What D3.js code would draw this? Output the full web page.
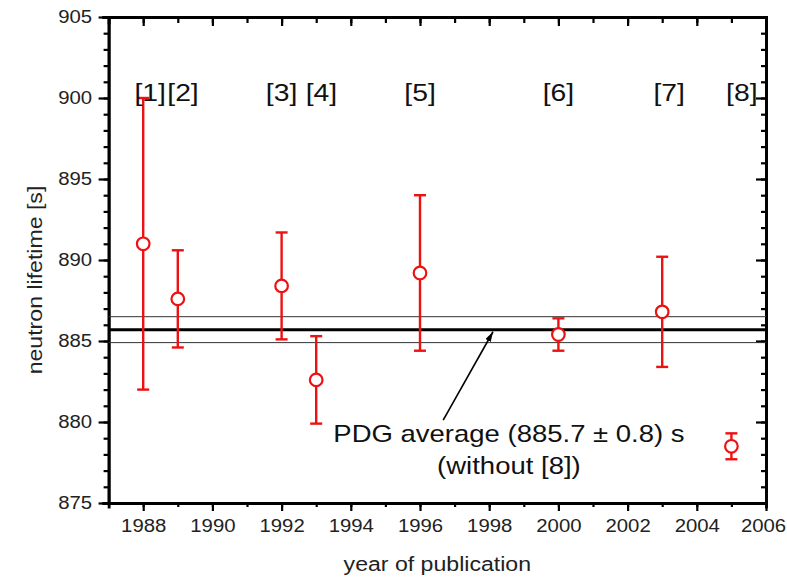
<!DOCTYPE html>
<html>
<head>
<meta charset="utf-8">
<script src="https://cdn.jsdelivr.net/npm/d3@7"></script>
<style>
  body { margin: 0; background: #fff; }
  svg { display: block; font-family: "Liberation Sans", Arial, sans-serif; }
</style>
</head>
<body>
<div id="chart"></div>
<script>
// measurements of the neutron lifetime
var years     = [1988, 1989, 1992, 1993, 1996, 2000, 2003, 2005];
var lifetimes = [891.0, 887.6, 888.4, 882.6, 889.2, 885.4, 886.8, 878.5];
var errors    = [9.0, 3.0, 3.3, 2.7, 4.8, 1.0, 3.4, 0.8];
var refLabels = ["[1]", "[2]", "[3]", "[4]", "[5]", "[6]", "[7]", "[8]"];
var refLabelYears = [1988.2, 1989.15, 1992.0, 1993.15, 1996.0, 2000.0, 2003.2, 2005.3];

// PDG average
var pdgMean = 885.7, pdgErr = 0.8;
var pdgText = ["PDG average (885.7 \u00b1 0.8) s", "(without [8])"];

var xTicks = [1988, 1990, 1992, 1994, 1996, 1998, 2000, 2002, 2004, 2006];
var yTicks = [875, 880, 885, 890, 895, 900, 905];

var width = 787, height = 579;
var margin = { top: 17, right: 21, bottom: 76, left: 108.6 };
var fontFamily = "'Liberation Sans', Arial, sans-serif";
var stretch = 1.13; // the original text is a bit wider than Arial

var svg = d3.select("#chart").append("svg")
    .attr("width", width)
    .attr("height", height);

var x = d3.scaleLinear().domain([1987, 2006]).range([margin.left, width - margin.right]);
var y = d3.scaleLinear().domain([875, 905]).range([height - margin.bottom, margin.top]);

var xMinor = d3.range(1987, 2007, 1);
var yMinor = d3.range(875, 906, 1);

function styleAxis(g) {
    g.attr("font-family", fontFamily).attr("font-size", 18);
    g.select(".domain").attr("stroke", "#000").attr("stroke-width", 2.8)
        .attr("stroke-linecap", "square");
    g.selectAll(".tick line").attr("stroke", "#000").attr("stroke-width", 2.2);
    g.selectAll(".tick text").attr("fill", "#222");
}

// minor ticks
svg.append("g").attr("transform", "translate(0," + y.range()[0] + ")")
    .call(d3.axisBottom(x).tickValues(xMinor).tickSize(4).tickFormat(""))
    .call(styleAxis);
svg.append("g").attr("transform", "translate(0," + y.range()[1] + ")")
    .call(d3.axisTop(x).tickValues(xMinor).tickSize(-6).tickFormat(""))
    .call(styleAxis);
svg.append("g").attr("transform", "translate(" + x.range()[0] + ",0)")
    .call(d3.axisLeft(y).tickValues(yMinor).tickSize(5).tickFormat(""))
    .call(styleAxis);
svg.append("g").attr("transform", "translate(" + x.range()[1] + ",0)")
    .call(d3.axisRight(y).tickValues(yMinor).tickSize(-5).tickFormat(""))
    .call(styleAxis);

// major ticks
svg.append("g").attr("transform", "translate(0," + y.range()[0] + ")")
    .call(d3.axisBottom(x).tickValues(xTicks).tickSize(8).tickSizeOuter(0)
        .tickFormat(d3.format("d")).tickPadding(8))
    .call(styleAxis)
    .selectAll(".tick text")
    .attr("transform", function (d) {
        // keep the last label inside the page
        var shift = d === 2006 ? -3 : 0;
        return "translate(" + shift + ",0) scale(" + stretch + ",1)";
    });

svg.append("g").attr("transform", "translate(" + x.range()[0] + ",0)")
    .call(d3.axisLeft(y).tickValues(yTicks).tickSize(10).tickSizeOuter(0).tickPadding(6))
    .call(styleAxis)
    .selectAll(".tick text")
    .attr("x", 0)
    .attr("transform", "translate(-16.5,0) scale(" + stretch + ",1)");

svg.append("g").attr("transform", "translate(0," + y.range()[1] + ")")
    .call(d3.axisTop(x).tickValues(xTicks).tickSize(-9).tickSizeOuter(0).tickFormat(""))
    .call(styleAxis);
svg.append("g").attr("transform", "translate(" + x.range()[1] + ",0)")
    .call(d3.axisRight(y).tickValues(yTicks).tickSize(-10).tickSizeOuter(0).tickFormat(""))
    .call(styleAxis);

// axis titles
svg.append("text")
    .attr("transform", "translate(" + d3.mean(x.range()) + ",571) scale(1.1,1)")
    .attr("text-anchor", "middle")
    .attr("font-size", 21)
    .attr("fill", "#222")
    .text("year of publication");

svg.append("text")
    .attr("transform", "translate(42,280) rotate(-90) scale(1.1,1)")
    .attr("text-anchor", "middle")
    .attr("font-size", 21)
    .attr("fill", "#222")
    .text("neutron lifetime [s]");

// PDG average band
svg.selectAll(".pdg-thin")
    .data([pdgMean + pdgErr, pdgMean - pdgErr])
    .enter().append("line")
    .attr("x1", x.range()[0]).attr("x2", x.range()[1])
    .attr("y1", function (d) { return y(d); })
    .attr("y2", function (d) { return y(d); })
    .attr("stroke", "#333")
    .attr("stroke-width", 1);

svg.append("line")
    .attr("x1", x.range()[0]).attr("x2", x.range()[1])
    .attr("y1", y(pdgMean)).attr("y2", y(pdgMean))
    .attr("stroke", "#000")
    .attr("stroke-width", 3);

// error bars and points
var red = "#ee1111";
var pts = svg.append("g").selectAll("g")
    .data(years)
    .enter().append("g");

pts.append("line")
    .attr("x1", function (d) { return x(d); })
    .attr("x2", function (d) { return x(d); })
    .attr("y1", function (d, i) { return y(lifetimes[i] - errors[i]); })
    .attr("y2", function (d, i) { return y(lifetimes[i] + errors[i]); })
    .attr("stroke", red).attr("stroke-width", 2.4);

[-1, 1].forEach(function (s) {
    pts.append("line")
        .attr("x1", function (d) { return x(d) - 6; })
        .attr("x2", function (d) { return x(d) + 6; })
        .attr("y1", function (d, i) { return y(lifetimes[i] + s * errors[i]); })
        .attr("y2", function (d, i) { return y(lifetimes[i] + s * errors[i]); })
        .attr("stroke", red).attr("stroke-width", 2.4);
});

pts.append("circle")
    .attr("cx", function (d) { return x(d); })
    .attr("cy", function (d, i) { return y(lifetimes[i]); })
    .attr("r", 6.3)
    .attr("fill", "#fff")
    .attr("stroke", red).attr("stroke-width", 2.2);

// reference labels
svg.append("g").selectAll("text")
    .data(refLabels)
    .enter().append("text")
    .attr("transform", function (d, i) {
        return "translate(" + x(refLabelYears[i]) + "," + y(899.8) + ") scale(1.18,1)";
    })
    .attr("text-anchor", "middle")
    .attr("font-size", 24)
    .attr("fill", "#111")
    .text(function (d) { return d; });

// PDG annotation
svg.selectAll(".pdg-text")
    .data(pdgText)
    .enter().append("text")
    .attr("transform", function (d, i) {
        return "translate(" + x(1998.57) + "," + y(878.78 - i * 2.0) + ") scale(1.146,1)";
    })
    .attr("text-anchor", "middle")
    .attr("font-size", 24)
    .attr("fill", "#111")
    .text(function (d) { return d; });

svg.append("defs").append("marker")
    .attr("id", "arrow")
    .attr("viewBox", "0 0 10 6")
    .attr("refX", 10).attr("refY", 3)
    .attr("markerWidth", 10).attr("markerHeight", 6)
    .attr("markerUnits", "userSpaceOnUse")
    .attr("orient", "auto")
    .append("path")
    .attr("d", "M0,0L10,3L0,6Z")
    .attr("fill", "#000");

svg.append("line")
    .attr("x1", x(1996.67)).attr("y1", y(880.12))
    .attr("x2", x(1998.11)).attr("y2", y(885.57))
    .attr("stroke", "#000")
    .attr("stroke-width", 1.6)
    .attr("marker-end", "url(#arrow)");
</script>
</body>
</html>
